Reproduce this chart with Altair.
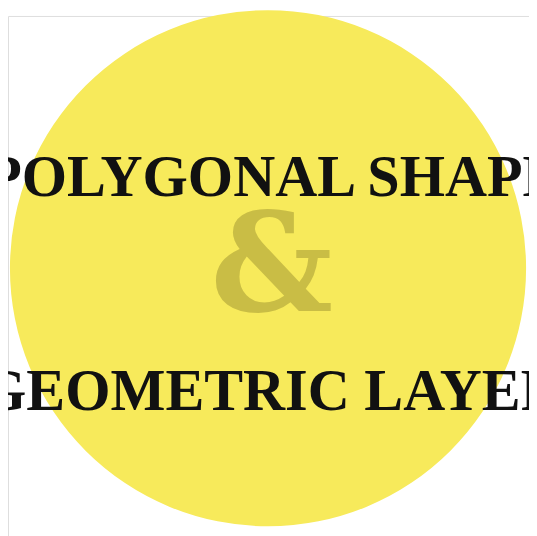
import altair as alt
import pandas as pd

labels = ["POLYGONAL SHAPE", "GEOMETRIC LAYER"]
label_x = [274, 272]
label_y = [176, 396]

base = alt.Chart(pd.DataFrame({"a": [1]}))

circle = base.mark_arc(color="#F7EA5B", radius=266).encode(
    theta=alt.value(6.2832), x=alt.value(268), y=alt.value(260))

amp = base.mark_text(text="&", font="DejaVu Serif", fontSize=140, fontWeight="bold",
                     color="#C9BD45", baseline="middle", align="center").encode(
    x=alt.value(272), y=alt.value(262))

df = pd.DataFrame({"t": labels, "x": label_x, "y": label_y})
txt = alt.Chart(df).mark_text(font="Liberation Sans Narrow", fontWeight="bold", fontSize=60,
                              color="#111111", baseline="middle", align="center").encode(
    x=alt.X("x:Q", scale=alt.Scale(domain=[0, 537]), axis=None),
    y=alt.Y("y:Q", scale=alt.Scale(domain=[544, 8]), axis=None),
    text="t:N")

chart = alt.layer(circle, amp, txt).properties(
    width=537, height=536, padding=0, autosize="none"
).configure_view(stroke=None).configure(background="white")

chart.save("out.html", embed_options={"renderer": "svg", "actions": False})
